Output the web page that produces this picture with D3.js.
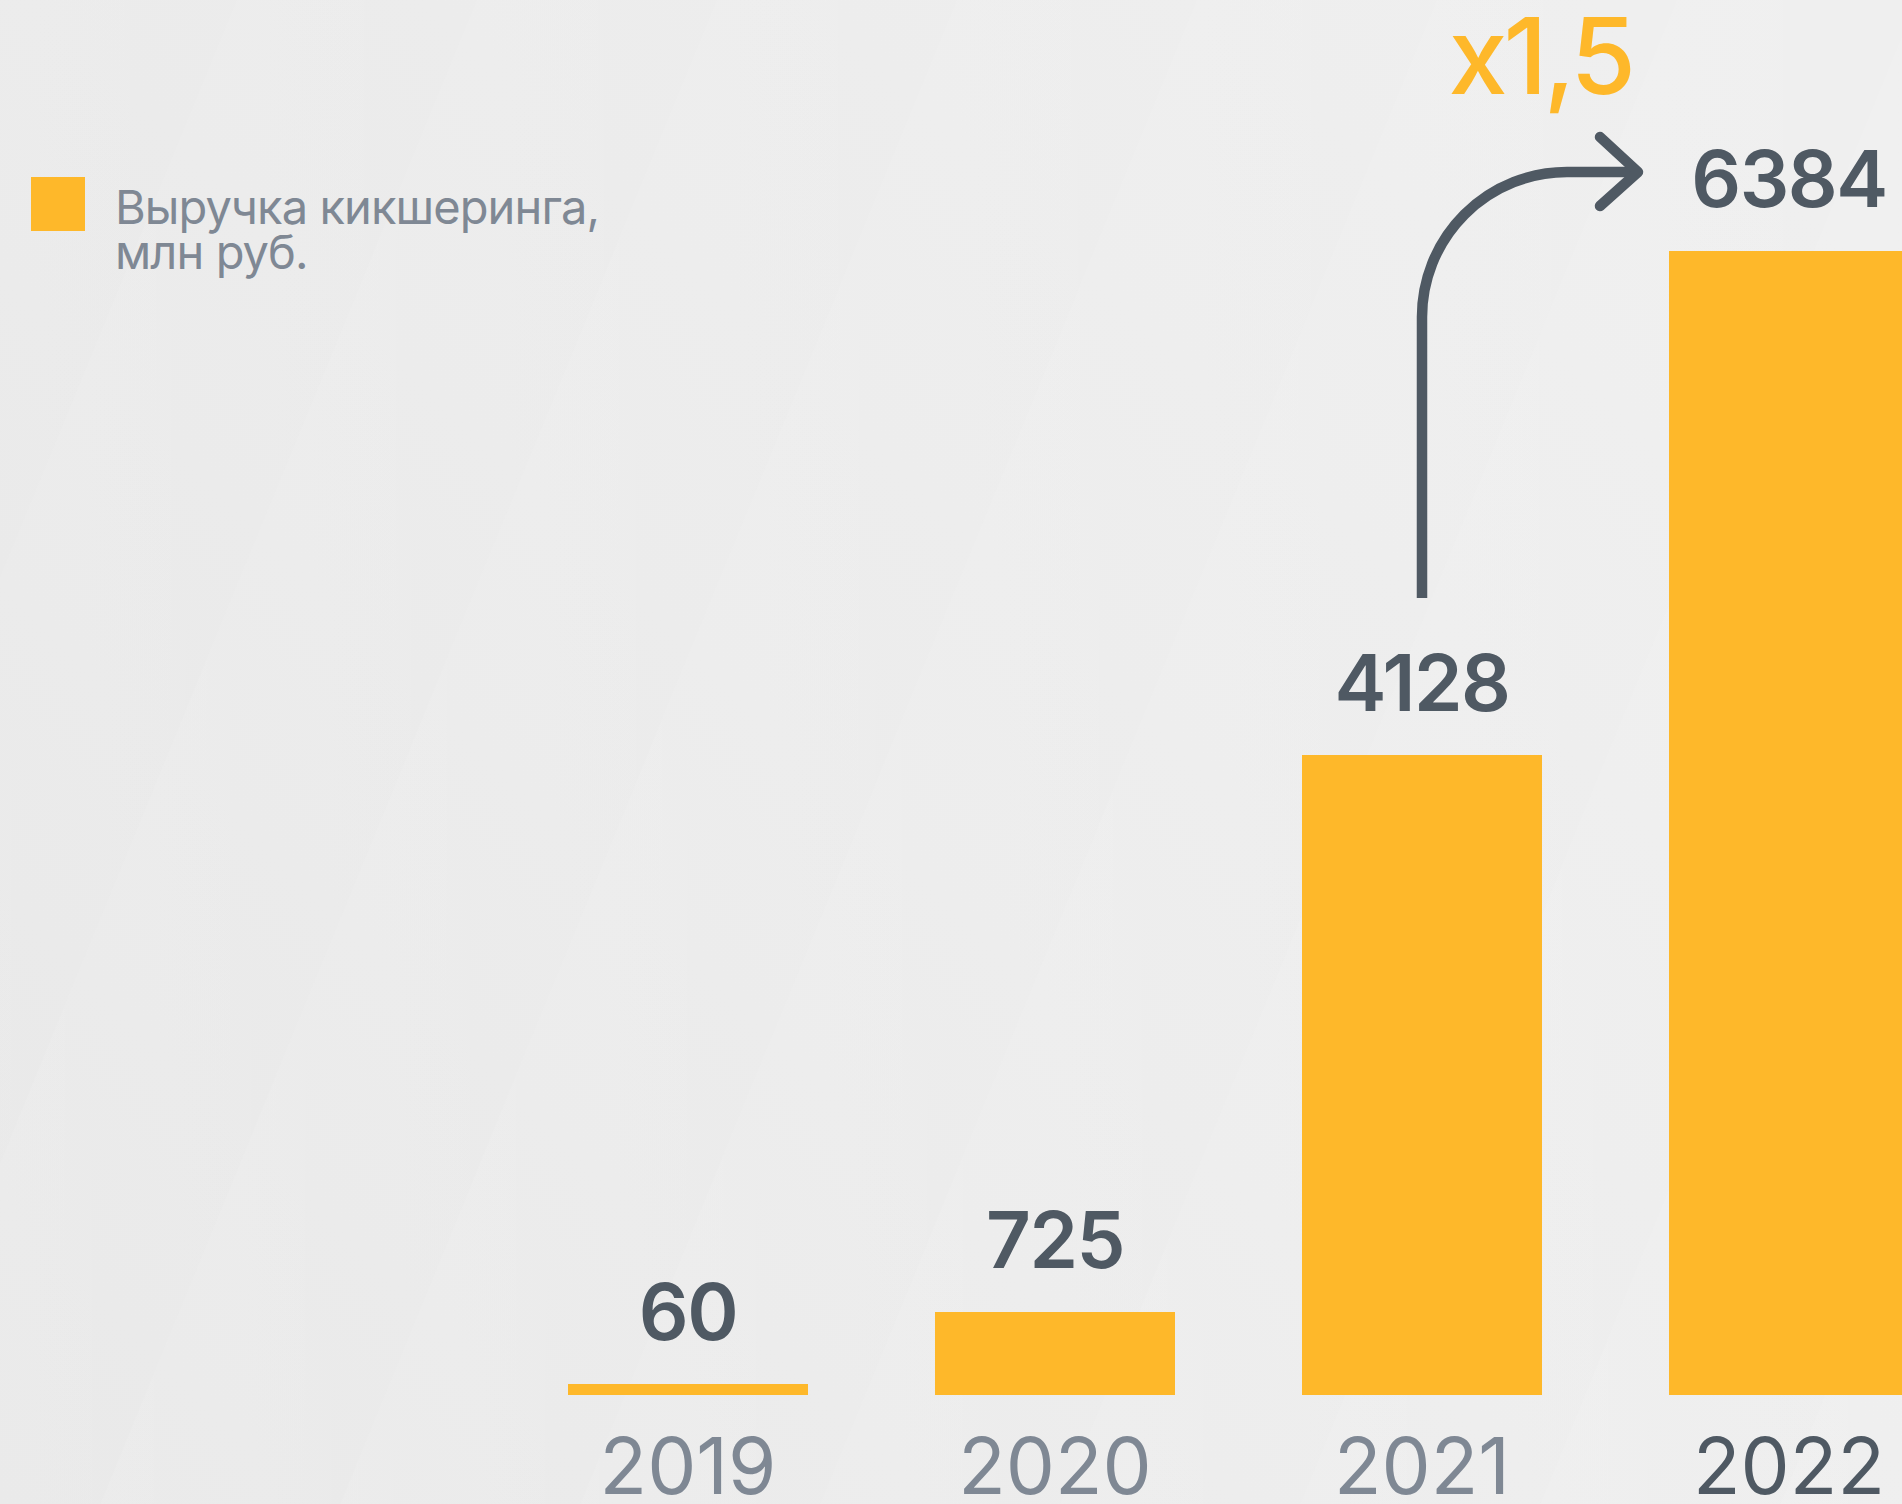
<!DOCTYPE html>
<html>
<head>
<meta charset="utf-8">
<script src="https://cdn.jsdelivr.net/npm/d3@7"></script>
<style>
  html, body { margin: 0; padding: 0; background: #ebebeb; }
  svg { display: block; }
  text { font-family: Inter, "Noto Sans", sans-serif; }
</style>
</head>
<body>
<svg></svg>
<script>
// Data
var years = ["2019", "2020", "2021", "2022"]
var revenue = [60, 725, 4128, 6384]
var legendLines = ["Выручка кикшеринга,", "млн руб."]
var growthLabel = "x1,5"

// Sizes
var width = 1902
var height = 1504
var baseY = 1395

var yellow = "#feb82a"
var dark = "#4f5963"
var gray = "#7f8894"

var svg = d3.select("svg")
  .attr("width", width)
  .attr("height", height)
  .attr("viewBox", "0 0 " + width + " " + height)

// Background: soft diagonal facets
var defs = svg.append("defs")
var bgGrad = defs.append("linearGradient")
  .attr("id", "bg")
  .attr("x1", "0").attr("y1", "1").attr("x2", "1").attr("y2", "0.2")
bgGrad.append("stop").attr("offset", "0").attr("stop-color", "#e6e6e6")
bgGrad.append("stop").attr("offset", "0.5").attr("stop-color", "#ebebeb")
bgGrad.append("stop").attr("offset", "1").attr("stop-color", "#efefef")
svg.append("rect").attr("width", width).attr("height", height).attr("fill", "url(#bg)")

var facet = defs.append("linearGradient")
  .attr("id", "facet")
  .attr("x1", "0").attr("y1", "0").attr("x2", "1").attr("y2", "0")
facet.append("stop").attr("offset", "0").attr("stop-color", "#ffffff").attr("stop-opacity", 0.2)
facet.append("stop").attr("offset", "1").attr("stop-color", "#ffffff").attr("stop-opacity", 0)

var slant = 0.41
svg.append("g")
  .selectAll("path")
  .data(d3.range(-3, 13))
  .enter()
  .append("path")
  .attr("d", function(k) {
    var c = 477 + 240 * k
    return "M" + c + ",0 L" + (c + 240) + ",0 L" + (c + 240 - slant * height) + "," + height +
      " L" + (c - slant * height) + "," + height + "Z"
  })
  .attr("fill", "url(#facet)")

// Scales (the source chart is drawn not to scale, so the value axis is piecewise)
var x = d3.scaleBand()
  .domain(years)
  .range([568, 1909])
  .paddingInner(127 / 367)
  .paddingOuter(0)

var y = d3.scaleLinear()
  .domain([0, 60, 725, 4128, 6384])
  .range([baseY, 1384, 1312, 755, 251])

// Bars
svg.append("g")
  .selectAll("rect")
  .data(revenue)
  .enter()
  .append("rect")
  .attr("x", function(d, i) { return x(years[i]) })
  .attr("y", function(d) { return y(d) })
  .attr("width", x.bandwidth())
  .attr("height", function(d) { return baseY - y(d) })
  .attr("fill", yellow)

// Value labels
svg.append("g")
  .selectAll("text")
  .data(revenue)
  .enter()
  .append("text")
  .attr("x", function(d, i) { return x(years[i]) + x.bandwidth() / 2 })
  .attr("y", function(d) { return y(d) - 44 })
  .attr("text-anchor", "middle")
  .attr("font-size", 78)
  .attr("font-weight", 600)
  .attr("letter-spacing", -1.5)
  .attr("fill", dark)
  .text(function(d) { return d })

// Year labels
svg.append("g")
  .selectAll("text")
  .data(years)
  .enter()
  .append("text")
  .attr("x", function(d) { return x(d) + x.bandwidth() / 2 })
  .attr("y", 1494)
  .attr("text-anchor", "middle")
  .attr("font-size", 78)
  .attr("font-weight", 400)
  .attr("fill", function(d, i) { return i == years.length - 1 ? dark : gray })
  .text(function(d) { return d })

// Legend
svg.append("rect")
  .attr("x", 31).attr("y", 177)
  .attr("width", 54).attr("height", 54)
  .attr("fill", yellow)

svg.append("g")
  .selectAll("text")
  .data(legendLines)
  .enter()
  .append("text")
  .attr("x", 115)
  .attr("y", function(d, i) { return 224 + i * 45 })
  .attr("font-size", 47)
  .attr("letter-spacing", -0.9)
  .attr("fill", gray)
  .text(function(d) { return d })

// Growth arrow from 2021 to 2022
var ax = x("2021") + x.bandwidth() / 2
var ay0 = y(revenue[2]) - 157
var ay1 = 172
var r = 145
var tipX = 1638
var arrow = d3.path()
arrow.moveTo(ax, ay0)
arrow.lineTo(ax, ay1 + r)
arrow.arc(ax + r, ay1 + r, r, Math.PI, 1.5 * Math.PI)
arrow.lineTo(tipX, ay1)

svg.append("path")
  .attr("d", arrow.toString())
  .attr("fill", "none")
  .attr("stroke", dark)
  .attr("stroke-width", 10.5)

svg.append("path")
  .attr("d", "M" + (tipX - 38) + "," + (ay1 - 35) + " L" + tipX + "," + ay1 + " L" + (tipX - 38) + "," + (ay1 + 34))
  .attr("fill", "none")
  .attr("stroke", dark)
  .attr("stroke-width", 10.5)
  .attr("stroke-linecap", "round")
  .attr("stroke-linejoin", "round")

svg.append("text")
  .attr("x", 1632)
  .attr("y", 94)
  .attr("text-anchor", "end")
  .attr("font-size", 106)
  .attr("font-weight", 500)
  .attr("letter-spacing", -4)
  .attr("fill", yellow)
  .text(growthLabel)
</script>
</body>
</html>
